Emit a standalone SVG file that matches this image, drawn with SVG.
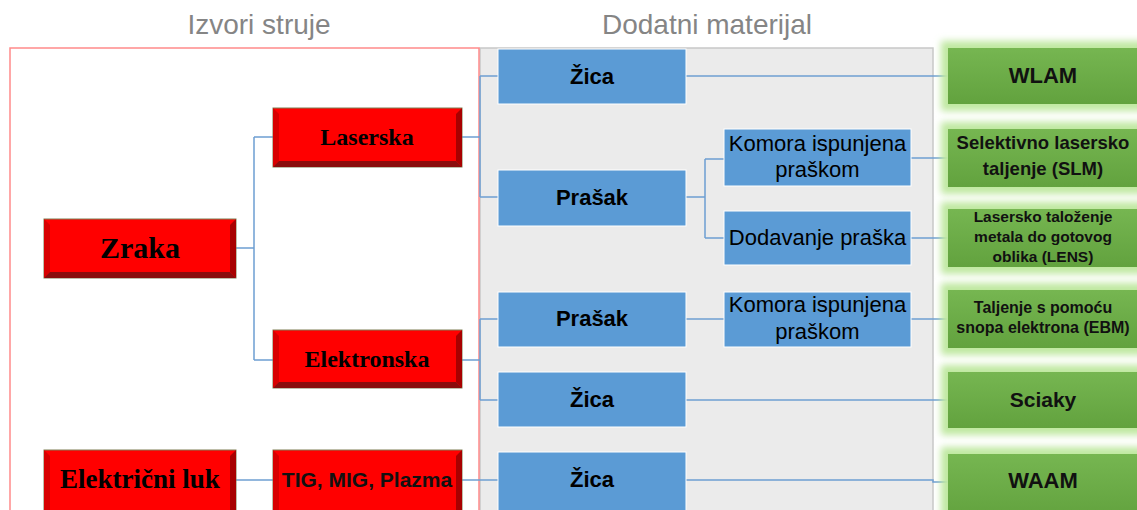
<svg xmlns="http://www.w3.org/2000/svg" width="1137" height="510" viewBox="0 0 1137 510">
<style>
.title{font-family:"Liberation Sans",Arial,sans-serif;font-size:28px;fill:#858585;text-anchor:middle}
.rbox{fill:#ff0000;stroke:#7f7f55;stroke-width:1}
.bb{fill:#8a0c0c}
.br{fill:#a80000}
.bl{fill:#d80000}
.rt{font-family:"Liberation Serif","Times New Roman",serif;font-weight:bold;fill:#000;text-anchor:middle}
.blue{fill:#5b9bd5;stroke:#ffffff;stroke-width:1}
.bt{font-family:"Liberation Sans",Arial,sans-serif;fill:#000;text-anchor:middle;font-size:22px}
.bold{font-weight:bold}
.green{fill:url(#gg)}
.glow{fill:#bfe8a0;filter:url(#blur)}
.gt{font-family:"Liberation Sans",Arial,sans-serif;font-weight:bold;fill:#111;text-anchor:middle}
.conn{fill:none;stroke:#6e9fd2;stroke-width:1.5}
</style>
<defs>
<linearGradient id="gg" x1="0" y1="0" x2="0" y2="1">
<stop offset="0" stop-color="#76b651"/>
<stop offset="1" stop-color="#62a23e"/>
</linearGradient>
<filter id="blur" x="-20%" y="-40%" width="140%" height="180%">
<feGaussianBlur stdDeviation="3.5"/>
</filter>
</defs>
<rect x="0" y="0" width="1137" height="510" fill="#ffffff"/>
<text class="title" x="259" y="34">Izvori struje</text>
<text class="title" x="707" y="34">Dodatni materijal</text>
<rect id="panel-dodatni" x="480" y="48" width="453" height="480" fill="#ebebeb" stroke="#c8c8c8" stroke-width="1.5"/>
<rect id="panel-izvori" x="10" y="48" width="469" height="480" fill="none" stroke="#ff8a8a" stroke-width="1.5"/>
<g id="connectors">
<path class="conn" d="M236,248 H254 M254,137 V360 M254,137 H273 M254,360 H273"/>
<path class="conn" d="M462,137 H480 M480,76 V197 M480,76 H498 M480,197 H498"/>
<path class="conn" d="M462,360 H480 M480,319 V400 M480,319 H498 M480,400 H498"/>
<path class="conn" d="M236,480 H273"/>
<path class="conn" d="M462,480 H498"/>
<path class="conn" d="M686,76 H948"/>
<path class="conn" d="M686,197 H705 M705,159 V238 M705,159 H724 M705,238 H724"/>
<path class="conn" d="M911,158 H948"/>
<path class="conn" d="M911,238 H948"/>
<path class="conn" d="M686,319 H724"/>
<path class="conn" d="M911,319 H948"/>
<path class="conn" d="M686,400 H948"/>
<path class="conn" d="M686,480 H933 V482 H948"/>
</g>
<g id="zraka">
<rect class="rbox" x="44" y="219" width="192" height="59"/>
<polygon class="bl" points="44,219 50,225 50,272 44,278"/>
<polygon class="br" points="236,219 236,278 230,272 230,225"/>
<polygon class="bb" points="44,278 236,278 230,272 50,272"/>
<text class="rt" x="140" y="258" font-size="30">Zraka</text>
</g>
<g id="laserska">
<rect class="rbox" x="273" y="108" width="189" height="59"/>
<polygon class="bl" points="273,108 279,114 279,161 273,167"/>
<polygon class="br" points="462,108 462,167 456,161 456,114"/>
<polygon class="bb" points="273,167 462,167 456,161 279,161"/>
<text class="rt" x="367" y="145" font-size="24">Laserska</text>
</g>
<g id="elektronska">
<rect class="rbox" x="273" y="330" width="189" height="58"/>
<polygon class="bl" points="273,330 279,336 279,382 273,388"/>
<polygon class="br" points="462,330 462,388 456,382 456,336"/>
<polygon class="bb" points="273,388 462,388 456,382 279,382"/>
<text class="rt" x="367" y="367" font-size="24">Elektronska</text>
</g>
<g id="elektricni-luk">
<rect class="rbox" x="44" y="450" width="192" height="68"/>
<polygon class="bl" points="44,450 50,456 50,512 44,518"/>
<polygon class="br" points="236,450 236,518 230,512 230,456"/>
<text class="rt" x="140" y="488" font-size="27">Električni luk</text>
</g>
<g id="tig-mig-plazma">
<rect class="rbox" x="273" y="450" width="189" height="68"/>
<polygon class="bl" points="273,450 279,456 279,512 273,518"/>
<polygon class="br" points="462,450 462,518 456,512 456,456"/>
<text class="gt" x="367" y="487" font-size="21" fill="#000">TIG, MIG, Plazma</text>
</g>
<g id="zica-1">
<rect class="blue" x="498" y="49" width="188" height="55"/>
<text class="bt bold" x="592" y="84" font-size="20">Žica</text>
</g>
<g id="prasak-1">
<rect class="blue" x="498" y="170" width="188" height="56"/>
<text class="bt bold" x="592" y="205" font-size="20">Prašak</text>
</g>
<g id="prasak-2">
<rect class="blue" x="498" y="292" width="188" height="55"/>
<text class="bt bold" x="592" y="326" font-size="20">Prašak</text>
</g>
<g id="zica-2">
<rect class="blue" x="498" y="372" width="188" height="55"/>
<text class="bt bold" x="592" y="407" font-size="20">Žica</text>
</g>
<g id="zica-3">
<rect class="blue" x="498" y="452" width="188" height="62"/>
<text class="bt bold" x="592" y="487" font-size="20">Žica</text>
</g>
<g id="komora-1">
<rect class="blue" x="724" y="129" width="187" height="57"/>
<text class="bt" x="817.5" y="151">Komora ispunjena</text>
<text class="bt" x="817.5" y="177">praškom</text>
</g>
<g id="dodavanje">
<rect class="blue" x="724" y="211" width="187" height="54"/>
<text class="bt" x="817.5" y="245">Dodavanje praška</text>
</g>
<g id="komora-2">
<rect class="blue" x="724" y="292" width="187" height="55"/>
<text class="bt" x="817.5" y="312">Komora ispunjena</text>
<text class="bt" x="817.5" y="339">praškom</text>
</g>
<g id="wlam">
<rect class="glow" x="941" y="41" width="207" height="70"/>
<rect class="green" x="948" y="48" width="195" height="56"/>
<text class="gt" x="1043" y="83" font-size="22">WLAM</text>
</g>
<g id="slm">
<rect class="glow" x="941" y="122" width="207" height="72"/>
<rect class="green" x="948" y="129" width="195" height="58"/>
<text class="gt" x="1043" y="149" font-size="18.5">Selektivno lasersko</text>
<text class="gt" x="1043" y="175" font-size="18.5">taljenje (SLM)</text>
</g>
<g id="lens">
<rect class="glow" x="941" y="202" width="207" height="72"/>
<rect class="green" x="948" y="209" width="195" height="58"/>
<text class="gt" x="1043" y="222" font-size="15.5">Lasersko taloženje</text>
<text class="gt" x="1043" y="242" font-size="15.5">metala do gotovog</text>
<text class="gt" x="1043" y="262" font-size="15.5">oblika (LENS)</text>
</g>
<g id="ebm">
<rect class="glow" x="941" y="283" width="207" height="72"/>
<rect class="green" x="948" y="290" width="195" height="58"/>
<text class="gt" x="1043" y="313" font-size="16">Taljenje s pomoću</text>
<text class="gt" x="1043" y="333" font-size="16">snopa elektrona (EBM)</text>
</g>
<g id="sciaky">
<rect class="glow" x="941" y="365" width="207" height="70"/>
<rect class="green" x="948" y="372" width="195" height="56"/>
<text class="gt" x="1043" y="407" font-size="21">Sciaky</text>
</g>
<g id="waam">
<rect class="glow" x="941" y="447" width="207" height="74"/>
<rect class="green" x="948" y="454" width="195" height="64"/>
<text class="gt" x="1043" y="488" font-size="22">WAAM</text>
</g>
</svg>
